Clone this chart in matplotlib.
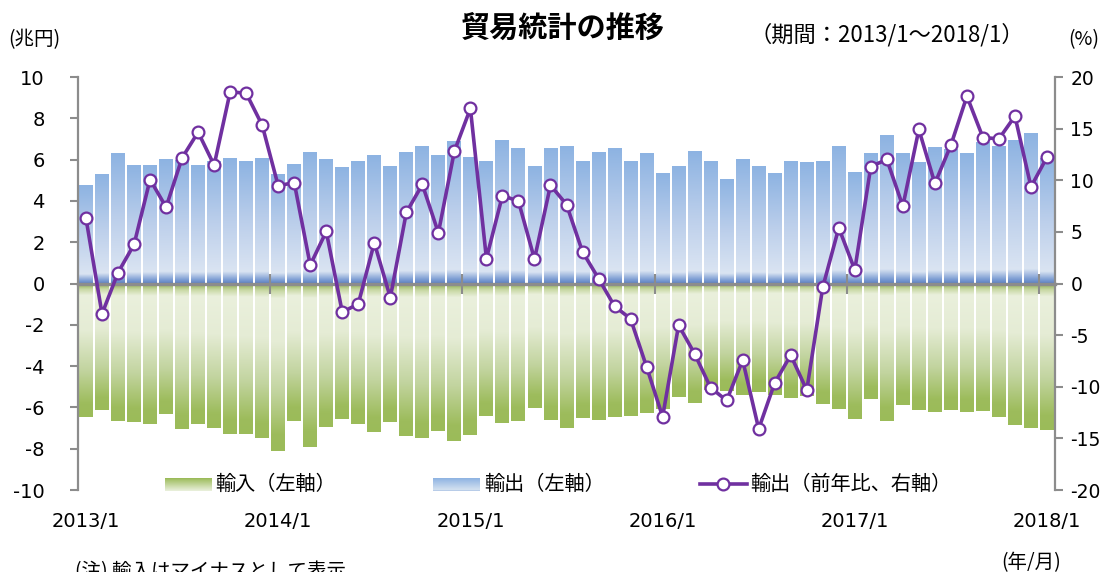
import numpy as np
import matplotlib
matplotlib.use("Agg")
from matplotlib import pyplot as plt
from matplotlib.colors import LinearSegmentedColormap
from matplotlib.lines import Line2D

plt.rcParams['font.family'] = ['DejaVu Sans', 'Noto Sans CJK JP']
plt.rcParams['axes.unicode_minus'] = False
JP = ['Noto Sans CJK JP', 'DejaVu Sans']

# 2013/1 .. 2018/1 (61 months)
exports = [4.79, 5.28, 6.30, 5.76, 5.76, 6.05, 5.97, 5.76, 5.95, 6.10, 5.91, 6.10,
           5.28, 5.81, 6.39, 6.05, 5.62, 5.95, 6.20, 5.71, 6.39, 6.68, 6.20, 6.88,
           6.15, 5.95, 6.93, 6.54, 5.71, 6.54, 6.68, 5.91, 6.39, 6.54, 5.95, 6.34,
           5.37, 5.71, 6.44, 5.91, 5.08, 6.05, 5.71, 5.33, 5.95, 5.86, 5.95, 6.68,
           5.42, 6.34, 7.21, 6.34, 5.86, 6.59, 6.49, 6.30, 6.83, 6.68, 6.93, 7.31,
           6.10]
imports = [-6.47, -6.13, -6.67, -6.71, -6.81, -6.33, -7.05, -6.81, -7.00, -7.29, -7.29, -7.49,
           -8.12, -6.67, -7.93, -6.96, -6.57, -6.81, -7.20, -6.71, -7.39, -7.49, -7.15, -7.64,
           -7.35, -6.42, -6.76, -6.67, -6.04, -6.62, -7.00, -6.52, -6.62, -6.47, -6.42, -6.28,
           -6.09, -5.51, -5.80, -5.17, -5.21, -5.41, -5.26, -5.41, -5.55, -5.46, -5.84, -6.09,
           -6.57, -5.60, -6.67, -5.89, -6.13, -6.23, -6.13, -6.23, -6.18, -6.47, -6.86, -7.00,
           -7.10]
export_yoy = [6.30, -2.94, 1.06, 3.78, 10.07, 7.39, 12.17, 14.66, 11.46, 18.56, 18.43, 15.33,
              9.46, 9.78, 1.78, 5.04, -2.78, -1.97, 3.94, -1.36, 6.88, 9.59, 4.91, 12.82,
              16.95, 2.42, 8.52, 7.97, 2.36, 9.52, 7.65, 3.07, 0.48, -2.20, -3.42, -8.07,
              -12.91, -4.04, -6.81, -10.10, -11.33, -7.43, -14.08, -9.62, -6.94, -10.33, -0.36, 5.39,
              1.32, 11.33, 12.01, 7.49, 14.92, 9.69, 13.40, 18.14, 14.14, 14.01, 16.21, 9.36,
              12.24]
year_labels = ['2013/1', '2014/1', '2015/1', '2016/1', '2017/1', '2018/1']

x = np.arange(len(exports))
W, H = 1105, 572
fig = plt.figure(figsize=(W / 100, H / 100), dpi=100)
ax = fig.add_axes([78 / W, 1 - 490 / H, (1055 - 78) / W, (490 - 77) / H])

blue = LinearSegmentedColormap.from_list('blue', [(0, '#5A7EC0'), (0.035, '#7F9FD4'), (0.10, '#DAE4F2'),
                                                  (0.5, '#BCCFEB'), (1, '#8DB3E2')])
green = LinearSegmentedColormap.from_list('green', [(0, '#88A84A'), (0.045, '#C8D8A4'), (0.09, '#EAF0DC'),
                                                    (0.35, '#E5ECD5'), (0.65, '#C2D49F'), (0.9, '#9DBC5C'),
                                                    (1, '#9BBB59')])
grad = np.linspace(0, 1, 256).reshape(-1, 1)

ex_bars = ax.bar(x, exports, width=0.87, color='none', linewidth=0)
im_bars = ax.bar(x, imports, width=0.87, color='none', linewidth=0)
for b in ex_bars:
    x0, w, h = b.get_x(), b.get_width(), b.get_height()
    im = ax.imshow(grad, extent=[x0, x0 + w, 0, h], origin='lower', aspect='auto', cmap=blue, zorder=1)
    im.set_clip_path(b)
for b in im_bars:
    x0, w, h = b.get_x(), b.get_width(), b.get_height()
    im = ax.imshow(grad[::-1], extent=[x0, x0 + w, h, 0], origin='lower', aspect='auto', cmap=green, zorder=1)
    im.set_clip_path(b)

ax.set_xlim(-0.5, len(x) - 0.5)
ax.set_ylim(-10, 10)
ax.set_yticks(np.arange(-10, 11, 2))
grey = '#8c8c8c'
for s in ['top', 'right']:
    ax.spines[s].set_visible(False)
ax.spines['left'].set_color(grey)
ax.spines['left'].set_linewidth(1.6)
ax.spines['bottom'].set_position(('data', 0))
ax.spines['bottom'].set_color(grey)
ax.spines['bottom'].set_linewidth(2.4)
ax.spines['bottom'].set_zorder(2.5)
ax.set_xticks([])
ax.set_xticks(np.arange(11.5, len(x), 12), minor=True)
ax.tick_params(axis='x', which='minor', direction='inout', length=14, width=1.5, color=grey)
ax.tick_params(axis='y', direction='out', length=6, width=1.5, color=grey, labelsize=14, pad=18)

sec = ax.secondary_xaxis(0)
sec.set_xticks(x[::12], year_labels)
sec.tick_params(length=0, pad=16, labelsize=14)
sec.spines['bottom'].set_visible(False)

ax2 = ax.twinx()
ax2.plot(x, export_yoy, color='#7030A0', lw=2.6, marker='o', ms=8.5,
         mfc='white', mec='#7030A0', mew=1.6, zorder=3)
ax2.set_ylim(-20, 20)
ax2.set_yticks(np.arange(-20, 21, 5))
for s in ['top', 'left', 'bottom']:
    ax2.spines[s].set_visible(False)
ax2.spines['right'].set_color(grey)
ax2.spines['right'].set_linewidth(1.6)
ax2.tick_params(axis='y', direction='out', length=6, width=1.5, color=grey, labelsize=13.5, pad=5)

# texts
fig.text(563 / W, 1 - 28 / H, '貿易統計の推移', ha='center', va='center', fontsize=21,
         fontweight='bold', family=JP)
fig.text(8 / W, 1 - 40 / H, '(兆円)', ha='left', va='center', fontsize=14, family=JP)
fig.text(887 / W, 1 - 35 / H, '（期間：2013/1～2018/1）', ha='center', va='center', fontsize=16, family=JP)
fig.text(1084 / W, 1 - 40 / H, '(%)', ha='center', va='center', fontsize=14, family=JP)
fig.text(1031 / W, 1 - 563 / H, '(年/月)', ha='center', va='center', fontsize=14, family=JP)
fig.text(75 / W, 1 - 561 / H, '(注) 輸入はマイナスとして表示', ha='left', va='top', fontsize=14, family=JP)

# legend
ly = 1 - 484 / H
gax = fig.add_axes([165 / W, 1 - 491 / H, 47 / W, 13 / H])
gax.imshow(grad[::-1], extent=[0, 1, 0, 1], origin='lower', aspect='auto',
           cmap=LinearSegmentedColormap.from_list('lg', ['#9BBB59', '#EBF1DE']))
gax.axhline(1, color='#9BBB59', lw=1.5)
gax.axis('off')
bax = fig.add_axes([433 / W, 1 - 491 / H, 47 / W, 13 / H])
bax.imshow(grad, extent=[0, 1, 0, 1], origin='lower', aspect='auto',
           cmap=LinearSegmentedColormap.from_list('lb', ['#DCE6F2', '#8DB3E2']))
bax.axhline(0, color='#B8CCE8', lw=1.5)
bax.axis('off')
fig.add_artist(Line2D([700 / W, 723 / W, 747 / W], [ly, ly, ly], transform=fig.transFigure,
                      color='#7030A0', lw=2.6, marker='o', ms=8.5, markevery=[1],
                      mfc='white', mec='#7030A0', mew=1.6))
fig.text(215 / W, ly, '輸入（左軸）', ha='left', va='center', fontsize=14.5, family=JP)
fig.text(484 / W, ly, '輸出（左軸）', ha='left', va='center', fontsize=14.5, family=JP)
fig.text(750 / W, ly, '輸出（前年比、右軸）', ha='left', va='center', fontsize=14.5, family=JP)

fig.savefig('out.png', dpi=100)
